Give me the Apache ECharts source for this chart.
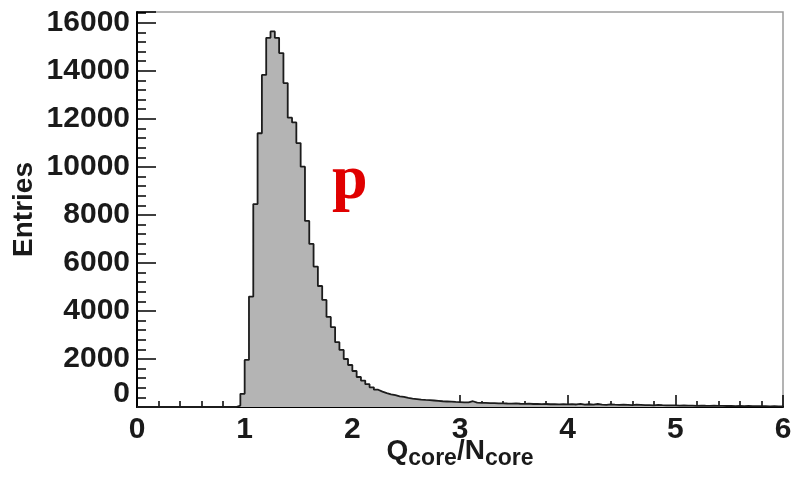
<!DOCTYPE html>
<html>
<head>
<meta charset="utf-8">
<script src="https://cdn.jsdelivr.net/npm/echarts@6/dist/echarts.min.js"></script>
<style>
  html, body { margin: 0; padding: 0; background: #fff; }
  #chart { width: 799px; height: 477px; }
</style>
</head>
<body>
<div id="chart"></div>
<script>
// Histogram of Q_core / N_core for protons: 150 bins of width 0.04 from 0 to 6
const binLow = 0;
const binWidth = 0.04;
const counts = [
  0, 0, 0, 0, 0, 0, 0, 0, 0, 0, 0, 0, 0, 0, 0, 0, 0, 0, 0, 0, 0, 0, 0,
  60, 550, 1960, 4600, 8450, 11400, 13830, 15375, 15640, 15375,
  14740, 13490, 12050, 11850, 10990, 10010, 7750, 6790, 5850, 5040,
  4460, 3750, 3330, 2700, 2375, 2000, 1750, 1500, 1250, 1100,
  950, 820, 720, 640, 580, 530, 490, 440, 420, 380,
  350, 330, 310, 295, 285, 270, 255, 240, 230, 220,
  210, 205, 195, 190, 240, 180, 175,
  170, 165, 160, 150, 155, 145, 140, 150, 135, 130,
  140, 125, 130, 120, 125, 115, 120, 110, 115, 108,
  120, 105, 130, 100, 115, 95, 125, 100, 90, 110,
  95, 85, 100, 90, 80, 95, 85, 75, 80, 70,
  85, 75, 70, 65, 70,
  60, 65, 55, 60, 50, 58, 52, 48, 55, 45,
  50, 42, 48, 40, 45, 38, 42, 35, 40, 33,
  38, 30, 35, 28, 30
];

// Axis ranges and tick steps
const xRange = [0, 6];
const xMajorStep = 1;
const yRange = [0, 16450];
const yMajorStep = 2000;
const yMinorStep = 400;

const axisFont = '"Liberation Sans", Arial, Helvetica, sans-serif';
const textColor = '#1a1a1a';

// Step outline: each point is a bin's left edge; a closing point ends the last bin
const histPoints = counts.map((c, i) => [binLow + i * binWidth, c]);
histPoints.push([binLow + counts.length * binWidth, counts[counts.length - 1]]);

const chart = echarts.init(document.getElementById('chart'), null, { renderer: 'canvas' });

chart.setOption({
  animation: false,
  backgroundColor: '#ffffff',
  grid: {
    left: 137, right: 16, top: 12, bottom: 70,
    containLabel: false,
    outerBoundsMode: 'none',
    show: true, borderColor: '#9a9a9a', borderWidth: 1.5, backgroundColor: 'transparent'
  },
  xAxis: {
    type: 'value',
    min: xRange[0], max: xRange[1], interval: xMajorStep,
    name: '{m|Q}{s|core}{m|/N}{s|core}',
    nameLocation: 'middle',
    nameMoveOverlap: false,
    nameGap: 25,
    nameTextStyle: {
      rich: {
        m: { fontSize: 28, fontWeight: 'bold', fontFamily: axisFont, color: textColor },
        s: { fontSize: 23, fontWeight: 'bold', fontFamily: axisFont, color: textColor, padding: [15, 0, 0, 0] }
      }
    },
    axisLine: { show: true, onZero: false, lineStyle: { color: '#000', width: 2 } },
    axisTick: { show: true, inside: true, length: 12, lineStyle: { color: '#000', width: 1.5 } },
    minorTick: { show: true, splitNumber: 5, length: 6, lineStyle: { color: '#000', width: 1.5 } },
    axisLabel: {
      show: true, margin: 8, fontSize: 30, fontWeight: 'bold',
      fontFamily: axisFont, color: textColor
    },
    splitLine: { show: false }
  },
  yAxis: [
    {
      type: 'value',
      min: yRange[0], max: yRange[1], interval: yMajorStep,
      position: 'left',
      name: 'Entries',
      nameLocation: 'middle',
      nameRotate: 90,
      nameMoveOverlap: false,
      nameGap: 99,
      nameTextStyle: { fontSize: 28, fontWeight: 'bold', fontFamily: axisFont, color: textColor },
      axisLine: { show: true, onZero: false, lineStyle: { color: '#000', width: 2 } },
      axisTick: { show: true, inside: true, length: 19, lineStyle: { color: '#000', width: 1.5 } },
      axisLabel: {
        show: true, margin: 7, fontSize: 30, fontWeight: 'bold',
        fontFamily: axisFont, color: textColor,
        formatter: function (v) {
          if (v % yMajorStep !== 0) return '';
          return v === 0 ? '{z|0}' : String(v);
        },
        rich: {
          z: { fontSize: 30, fontWeight: 'bold', fontFamily: axisFont, color: textColor, padding: [0, 0, 26, 0] }
        }
      },
      splitLine: { show: false }
    },
    {
      // minor ticks of the count axis
      type: 'value',
      min: yRange[0], max: yRange[1], interval: yMinorStep,
      position: 'left',
      offset: 0,
      axisLine: { show: false },
      axisTick: { show: true, inside: true, length: 9, lineStyle: { color: '#000', width: 1.5 } },
      axisLabel: { show: false },
      splitLine: { show: false }
    }
  ],
  series: [
    {
      type: 'line',
      xAxisIndex: 0,
      yAxisIndex: 0,
      step: 'end',
      data: histPoints,
      symbol: 'none',
      lineStyle: { color: '#1c1c1c', width: 1.8 },
      areaStyle: { color: '#b4b4b4', opacity: 1, origin: 'start' },
      silent: true,
      z: 1
    }
  ],
  graphic: [
    {
      type: 'text',
      x: 332,
      y: 181,
      z: 10,
      style: {
        text: 'p',
        font: 'bold 64px "Liberation Serif", "Times New Roman", serif',
        fill: '#e00000',
        align: 'left',
        verticalAlign: 'middle'
      }
    }
  ]
});
</script>
</body>
</html>
